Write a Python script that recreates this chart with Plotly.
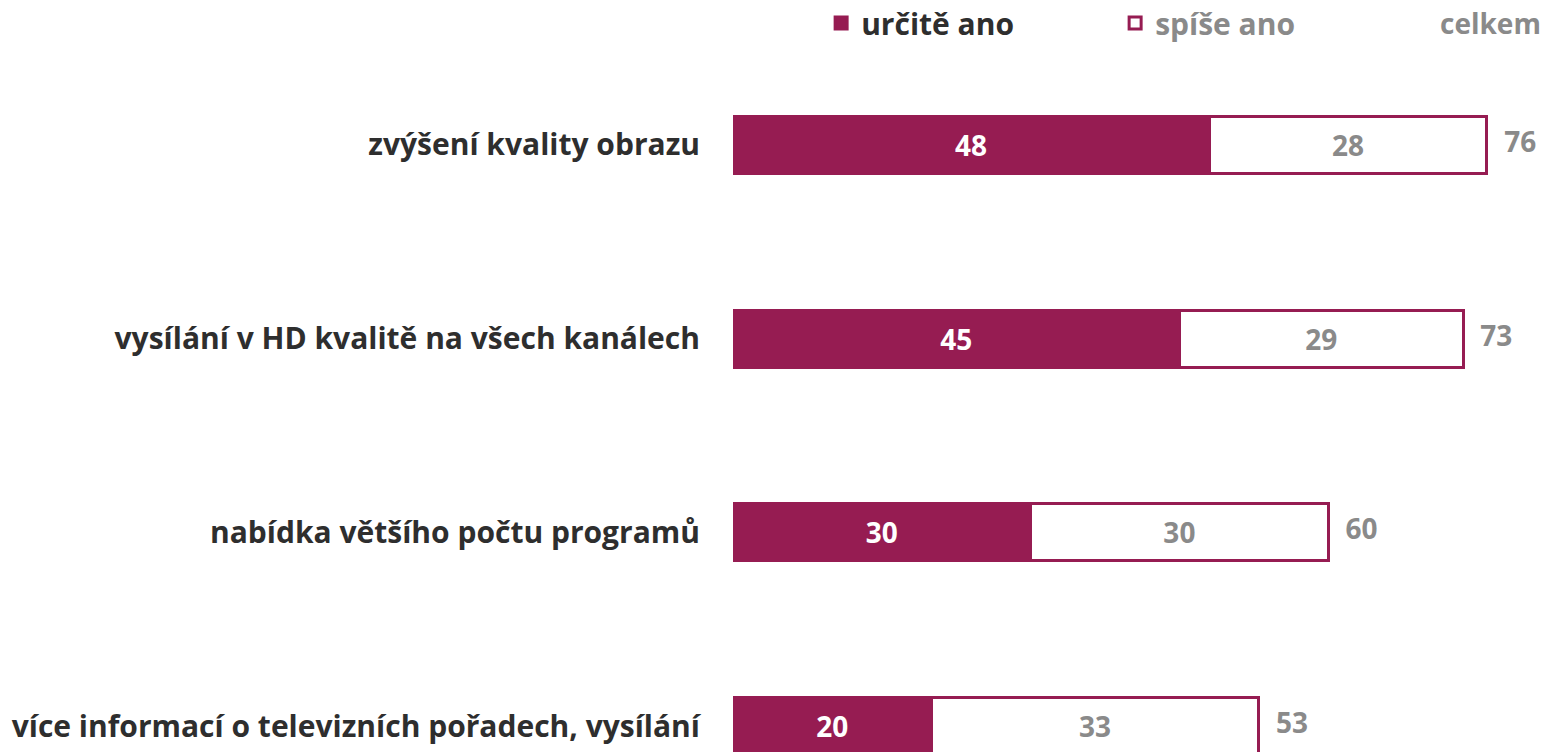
import plotly.graph_objects as go

categories = [
    "zvýšení kvality obrazu",
    "vysílání v HD kvalitě na všech kanálech",
    "nabídka většího počtu programů",
    "více informací o televizních pořadech, vysílání",
]
urcite_ano = [48, 45, 30, 20]
spise_ano = [28, 28.6, 30, 33]
celkem = [76, 73, 60, 53]

PLUM = "#961C52"
DARK = "#2e2e2e"
GREY = "#8a8a8a"
FONT = "Open Sans"

bar_ends = [a + b for a, b in zip(urcite_ano, spise_ano)]

fig = go.Figure()

fig.add_trace(go.Bar(
    y=categories, x=urcite_ano, orientation="h", name="určitě ano",
    marker=dict(color=PLUM, line=dict(color=PLUM, width=3)),
    texttemplate="%{x:.0f}", textposition="inside", insidetextanchor="middle",
    textfont=dict(color="white", size=28, family=FONT, weight=700),
    width=0.295, hoverinfo="skip",
))
fig.add_trace(go.Bar(
    y=categories, x=spise_ano, orientation="h",
    name="<span style='color:%s'>spíše ano</span>" % GREY,
    marker=dict(color="white", line=dict(color=PLUM, width=3)),
    texttemplate="%{x:.0f}", textposition="inside", insidetextanchor="middle",
    textfont=dict(color=GREY, size=28, family=FONT, weight=700),
    width=0.295, hoverinfo="skip",
))
# totals to the right of each bar
fig.add_trace(go.Scatter(
    y=categories, x=bar_ends, mode="markers+text", showlegend=False,
    marker=dict(size=26, color="rgba(0,0,0,0)"),
    text=celkem, textposition="middle right",
    textfont=dict(color=GREY, size=28, family=FONT, weight=700),
    hoverinfo="skip", cliponaxis=False,
))

fig.add_annotation(
    text="celkem", xref="paper", yref="paper", x=1, y=1.0355,
    xanchor="right", yanchor="middle", xshift=-6, showarrow=False,
    font=dict(color=GREY, size=28, family=FONT, weight=700),
)

fig.update_layout(
    width=1549, height=752,
    margin=dict(l=733, r=0, t=48, b=0, autoexpand=False),
    barmode="stack",
    plot_bgcolor="white", paper_bgcolor="white",
    font=dict(family=FONT, color=DARK),
    legend=dict(
        orientation="h", x=0.108, y=1.0355, xanchor="left", yanchor="middle",
        font=dict(size=30, color=DARK, family=FONT, weight=700),
        entrywidth=249, bgcolor="rgba(0,0,0,0)",
        traceorder="normal",
    ),
    xaxis=dict(range=[0, 82.26], visible=False),
    yaxis=dict(
        categoryorder="array", categoryarray=categories,
        range=[3.134, -0.5], showgrid=False, zeroline=False, showline=False,
        ticks="", ticklabelstandoff=32,
        tickfont=dict(size=30, color=DARK, family=FONT, weight=700),
    ),
)

fig.write_html("out.html", config={"displayModeBar": False},
               post_script="document.body.style.margin = '0';")
